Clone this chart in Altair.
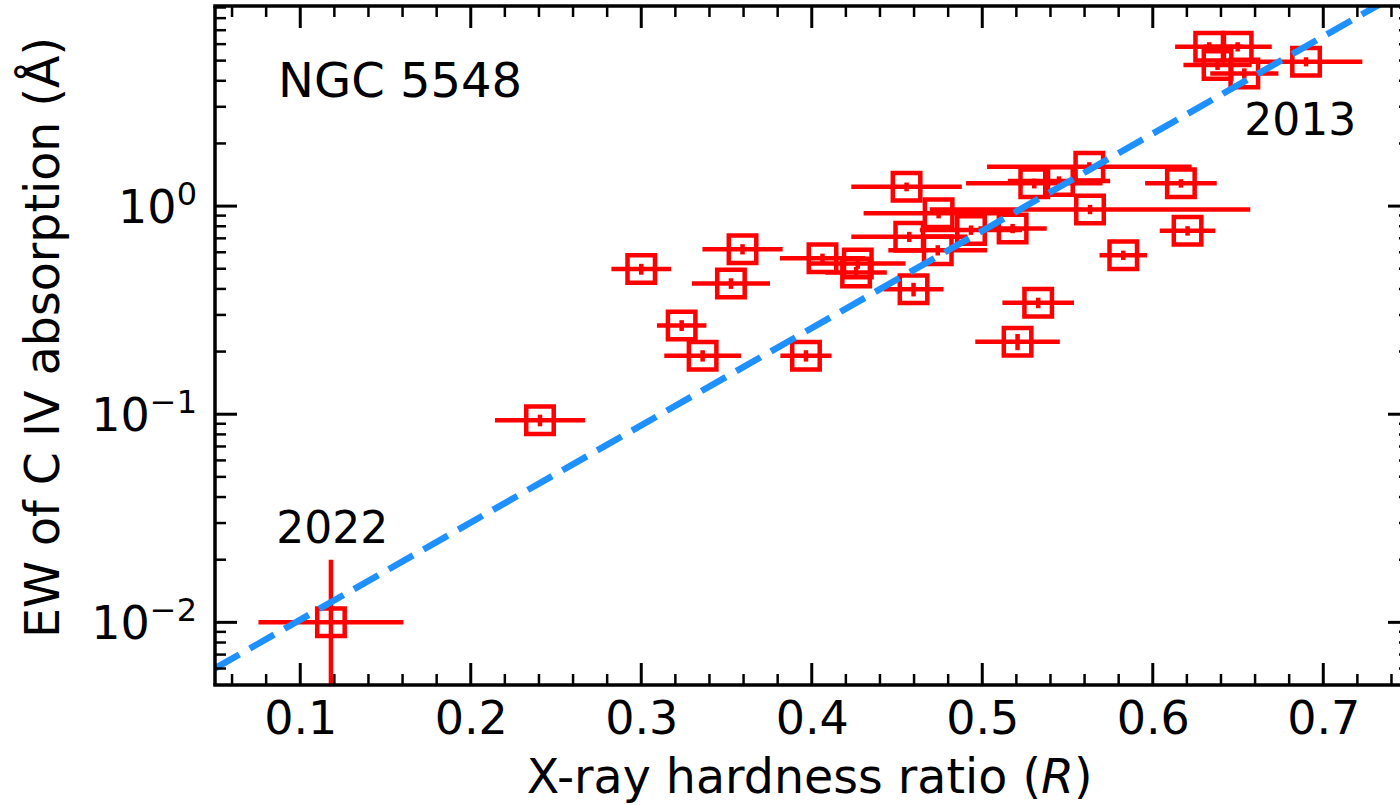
import altair as alt
import pandas as pd
import numpy as np

# ---- data ----
R = [0.118, 0.2406, 0.300, 0.3594, 0.3526, 0.3237, 0.336, 0.3966, 0.4063, 0.427,
     0.426, 0.4556, 0.4744, 0.4572, 0.4934, 0.5178, 0.4739, 0.4597, 0.5328, 0.5207,
     0.5305, 0.5628, 0.5632, 0.6165, 0.6204, 0.5827, 0.6331, 0.6498, 0.638, 0.6537,
     0.6899, 0.545]
R_err = [0.0425, 0.0264, 0.0175, 0.0235, 0.0229, 0.0145, 0.0225, 0.015, 0.025, 0.028,
         0.018, 0.0324, 0.044, 0.034, 0.030, 0.020, 0.029, 0.0176, 0.021, 0.0248,
         0.040, 0.060, 0.094, 0.021, 0.0163, 0.0139, 0.020, 0.020, 0.020, 0.020,
         0.033, 0.030]
EW = [0.010, 0.0935, 0.498, 0.621, 0.425, 0.267, 0.191, 0.191, 0.561, 0.53,
      0.48, 1.238, 0.923, 0.712, 0.767, 0.781, 0.614, 0.398, 0.343, 0.223,
      1.286, 1.545, 0.964, 1.286, 0.761, 0.581, 5.83, 5.83, 4.76, 4.34,
      4.94, 1.32]
EW_err = [0.010, 0.006, 0.03, 0.035, 0.025, 0.016, 0.012, 0.012, 0.03, 0.03,
          0.03, 0.06, 0.05, 0.04, 0.04, 0.04, 0.035, 0.03, 0.02, 0.02,
          0.07, 0.08, 0.05, 0.06, 0.04, 0.03, 0.3, 0.3, 0.25, 0.25,
          0.25, 0.07]

# best-fit relation  log10(EW) = a + b * R
fit_intercept = -2.4546
fit_slope = 4.671
fit_R = [0.05, 0.75]

x_major = [0.1, 0.2, 0.3, 0.4, 0.5, 0.6, 0.7]
x_minor = [0.06, 0.08, 0.12, 0.14, 0.16, 0.18, 0.22, 0.24, 0.26, 0.28,
           0.32, 0.34, 0.36, 0.38, 0.42, 0.44, 0.46, 0.48, 0.52, 0.54,
           0.56, 0.58, 0.62, 0.64, 0.66, 0.68, 0.72, 0.74]
y_major = [0.01, 0.1, 1.0]
y_label_base = ["10", "10", "10"]
y_label_exp = ["−2", "−1", "0"]
y_minor = [0.006, 0.007, 0.008, 0.009,
           0.02, 0.03, 0.04, 0.05, 0.06, 0.07, 0.08, 0.09,
           0.2, 0.3, 0.4, 0.5, 0.6, 0.7, 0.8, 0.9,
           2, 3, 4, 5, 6, 7, 8, 9]

annot_text = ["NGC 5548", "2013", "2022"]
annot_R = [0.087, 0.6537, 0.0859]
annot_EW = [3.35, 2.19, 0.024]
annot_size = [48, 44, 44]

# ---- layout / style ----
W, H = 1185, 679
XR = 1195          # where the (off-page) right spine sits
RED = "#ff0000"
BLUE = "#1e90ff"
FONT = "DejaVu Sans"
LFS = 46           # tick label font size
EFS = 32           # exponent font size
TFS = 47.5         # axis title font size
LAB_RIGHT = -18    # right edge of y tick labels (px from the left spine)

R_a = np.array(R)
EW_a = np.array(EW)
df = pd.DataFrame({
    "R": R_a,
    "Rlo": R_a - np.array(R_err),
    "Rhi": R_a + np.array(R_err),
    "EW": EW_a,
    "EWlo": np.maximum(EW_a - np.array(EW_err), 1e-4),
    "EWhi": EW_a + np.array(EW_err),
})
fit_df = pd.DataFrame({"R": fit_R,
                       "EW": 10 ** (fit_intercept + fit_slope * np.array(fit_R))})
ann_df = pd.DataFrame({"t": annot_text, "R": annot_R, "EW": annot_EW, "s": annot_size})
one = pd.DataFrame({"k": [0]})

# glyph advance widths (DejaVu Sans, em units) to place "10" left of the exponent
ADV = {"0": 0.636, "1": 0.636, "2": 0.636, "−": 0.838}
exp_w = [sum(ADV[c] for c in e) * EFS for e in y_label_exp]
ylab_df = pd.DataFrame({"v": y_major, "base": y_label_base, "exp": y_label_exp,
                        "xb": [LAB_RIGHT - w for w in exp_w],
                        "xe": [LAB_RIGHT] * len(y_major)})

xs = alt.Scale(domain=[0.05, 0.745], nice=False, zero=False)
ys = alt.Scale(type="log", domain=[0.005, 9.15], nice=False)

XA = alt.Axis(values=x_major, format=".1f", ticks=False, domain=False, grid=False,
              labelFontSize=LFS, labelFont=FONT, labelColor="black", labelPadding=12,
              labelFlush=False, labelOverlap=False, title=None)
YA = alt.Axis(values=y_major, ticks=False, domain=False, grid=False, labels=False,
              title="EW of C IV absorption (Å)", titleFont=FONT, titleFontSize=TFS,
              titleFontWeight="normal", titleColor="black", titleAngle=270,
              titleX=-157, titleY=331, titleAlign="center", titleBaseline="alphabetic")


def X(f):
    return alt.X(f, scale=xs, axis=XA)


def Y(f):
    return alt.Y(f, scale=ys, axis=YA)


xerr = alt.Chart(df).mark_rule(color=RED, strokeWidth=4.5, clip=True).encode(
    x=X("Rlo:Q"), x2="Rhi:Q", y=Y("EW:Q"))
yerr = alt.Chart(df).mark_rule(color=RED, strokeWidth=4.5, clip=True).encode(
    x=X("R:Q"), y=Y("EWlo:Q"), y2="EWhi:Q")
pts = alt.Chart(df).mark_point(shape="square", filled=False, size=756, strokeWidth=4.5,
                               color=RED, opacity=1).encode(x=X("R:Q"), y=Y("EW:Q"))
fit = alt.Chart(fit_df).mark_line(color=BLUE, strokeWidth=6.5, strokeDash=[28, 12],
                                  clip=True).encode(x=X("R:Q"), y=Y("EW:Q"))


def xticks(vals, length, sw):
    d = pd.DataFrame({"v": vals})
    b = alt.Chart(d).mark_rule(color="black", strokeWidth=sw).encode(
        x=X("v:Q"), y=alt.value(H), y2=alt.value(H - length))
    t = alt.Chart(d).mark_rule(color="black", strokeWidth=sw).encode(
        x=X("v:Q"), y=alt.value(0), y2=alt.value(length))
    return [b, t]


def yticks(vals, length, sw):
    d = pd.DataFrame({"v": vals})
    l = alt.Chart(d).mark_rule(color="black", strokeWidth=sw).encode(
        y=Y("v:Q"), x=alt.value(0), x2=alt.value(length))
    r = alt.Chart(d).mark_rule(color="black", strokeWidth=sw).encode(
        y=Y("v:Q"), x=alt.value(XR), x2=alt.value(XR - length))
    return [l, r]


ticks = (xticks(x_major, 22, 3) + xticks(x_minor, 11, 2.5)
         + yticks(y_major, 22, 3) + yticks(y_minor, 11, 2.5))

SW = 3.5
spines = [
    alt.Chart(one).mark_rule(color="black", strokeWidth=SW).encode(
        x=alt.value(-1.75), x2=alt.value(XR), y=alt.value(H)),
    alt.Chart(one).mark_rule(color="black", strokeWidth=SW).encode(
        x=alt.value(-1.75), x2=alt.value(XR), y=alt.value(0)),
    alt.Chart(one).mark_rule(color="black", strokeWidth=SW).encode(
        x=alt.value(0), y=alt.value(0), y2=alt.value(H)),
    alt.Chart(one).mark_rule(color="black", strokeWidth=SW).encode(
        x=alt.value(XR), y=alt.value(0), y2=alt.value(H)),
]

# y tick labels: "10" with a raised, smaller exponent (mathtext style)
ylab_base = alt.Chart(ylab_df).mark_text(align="right", baseline="alphabetic", font=FONT,
                                         fontSize=LFS, color="black", dy=16.8).encode(
    x=alt.X("xb:Q", scale=None), y=Y("v:Q"), text="base:N")
ylab_exp = alt.Chart(ylab_df).mark_text(align="right", baseline="alphabetic", font=FONT,
                                        fontSize=EFS, color="black", dy=-1).encode(
    x=alt.X("xe:Q", scale=None), y=Y("v:Q"), text="exp:N")

ann = alt.Chart(ann_df).mark_text(align="left", baseline="alphabetic", font=FONT,
                                  color="black").encode(
    x=X("R:Q"), y=Y("EW:Q"), text="t:N", size=alt.Size("s:Q", scale=None))

TY = 787
XT_MID = 826       # end of "X-ray hardness ratio (" in px
xt1 = alt.Chart(one).mark_text(text="X-ray hardness ratio (", align="right",
                               baseline="alphabetic", font=FONT, fontSize=TFS,
                               color="black").encode(x=alt.value(XT_MID), y=alt.value(TY))
xt2 = alt.Chart(one).mark_text(text="R", align="left", baseline="alphabetic", font=FONT,
                               fontSize=TFS, fontStyle="italic",
                               color="black").encode(x=alt.value(XT_MID), y=alt.value(TY))
xt3 = alt.Chart(one).mark_text(text=")", align="left", baseline="alphabetic", font=FONT,
                               fontSize=TFS, color="black").encode(
    x=alt.value(XT_MID + 0.695 * TFS), y=alt.value(TY))

chart = alt.layer(xerr, yerr, pts, fit, *ticks, *spines, ylab_base, ylab_exp, ann,
                  xt1, xt2, xt3).properties(
    width=W, height=H,
    padding={"left": 215, "top": 6, "right": 0, "bottom": 120},
    autosize=alt.AutoSizeParams(type="none"),
    background="white",
).configure_view(strokeWidth=0)

chart.save("out.html", embed_options={"renderer": "svg", "actions": False})
